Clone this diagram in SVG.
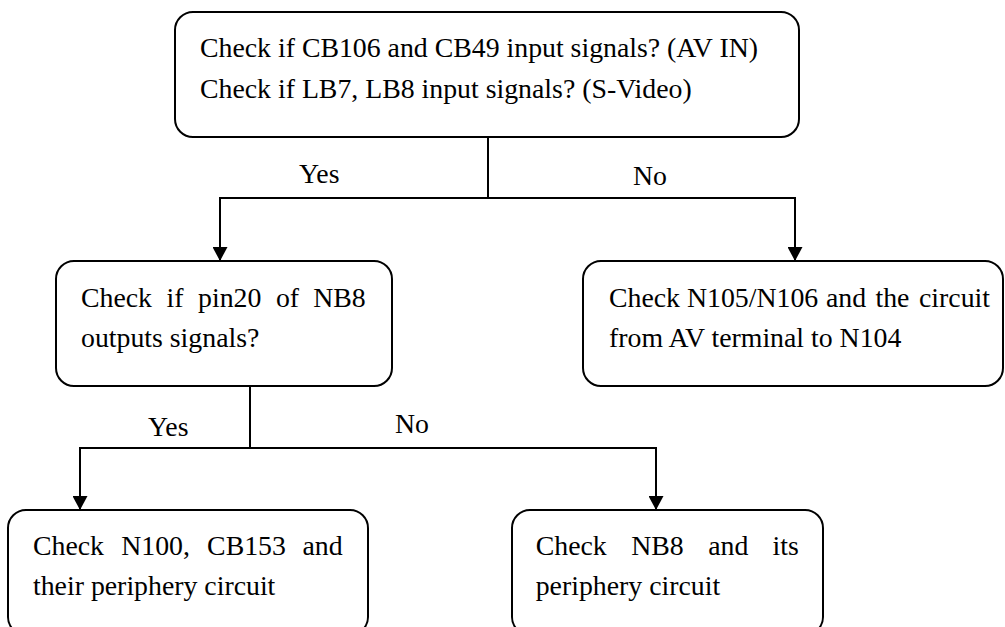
<svg xmlns="http://www.w3.org/2000/svg" width="1005" height="627" viewBox="0 0 1005 627">
  <style>
    .box { fill: #ffffff; stroke: #000000; stroke-width: 2; }
    .t { font-family: "Liberation Serif", "Times New Roman", serif; font-size: 27.8px; fill: #000000; }
    .conn { fill: none; stroke: #000000; stroke-width: 2; }
  </style>
  <defs>
    <marker id="arrow" markerUnits="userSpaceOnUse" viewBox="0 0 14 15" refX="14" refY="7.5" markerWidth="14" markerHeight="15" orient="auto">
      <path d="M0,0 L14,7.5 L0,15 Z" fill="#000000"/>
    </marker>
  </defs>
  <rect x="0" y="0" width="1005" height="627" fill="#ffffff"/>

  <g id="connectors">
    <path class="conn" d="M488,137 V198 H220 V261" marker-end="url(#arrow)"/>
    <path class="conn" d="M488,198 H795 V261" marker-end="url(#arrow)"/>
    <path class="conn" d="M250,386 V448 H80 V510" marker-end="url(#arrow)"/>
    <path class="conn" d="M250,448 H656 V510" marker-end="url(#arrow)"/>
    <text class="t" x="299" y="183">Yes</text>
    <text class="t" x="633" y="185">No</text>
    <text class="t" x="148" y="436">Yes</text>
    <text class="t" x="395" y="433">No</text>
  </g>

  <g id="node-top">
    <rect class="box" x="175" y="12" width="624" height="125" rx="18" ry="18"/>
    <text class="t" x="200" y="57">Check if CB106 and CB49 input signals? (AV IN)</text>
    <text class="t" x="200" y="98">Check if LB7, LB8 input signals? (S-Video)</text>
  </g>

  <g id="node-pin20">
    <rect class="box" x="56" y="261" width="336" height="125" rx="18" ry="18"/>
    <text class="t" y="307"><tspan x="81">Check</tspan><tspan x="166.5">if</tspan><tspan x="198.1">pin20</tspan><tspan x="275.9">of</tspan><tspan x="313.2">NB8</tspan></text>
    <text class="t" x="81" y="347">outputs signals?</text>
  </g>

  <g id="node-n105">
    <rect class="box" x="583" y="261" width="420" height="125" rx="18" ry="18"/>
    <text class="t" y="307"><tspan x="609">Check</tspan><tspan x="687">N105/N106</tspan><tspan x="826">and</tspan><tspan x="875.5">the</tspan><tspan x="919">circuit</tspan></text>
    <text class="t" x="609" y="347">from AV terminal to N104</text>
  </g>

  <g id="node-n100">
    <rect class="box" x="8" y="510" width="360" height="125" rx="18" ry="18"/>
    <text class="t" y="555"><tspan x="33">Check</tspan><tspan x="121.2">N100,</tspan><tspan x="207.1">CB153</tspan><tspan x="302.5">and</tspan></text>
    <text class="t" x="33" y="595">their periphery circuit</text>
  </g>

  <g id="node-nb8">
    <rect class="box" x="512" y="510" width="311" height="125" rx="18" ry="18"/>
    <text class="t" y="555"><tspan x="535.7">Check</tspan><tspan x="631.2">NB8</tspan><tspan x="708.2">and</tspan><tspan x="772.5">its</tspan></text>
    <text class="t" x="535.7" y="595">periphery circuit</text>
  </g>
</svg>
